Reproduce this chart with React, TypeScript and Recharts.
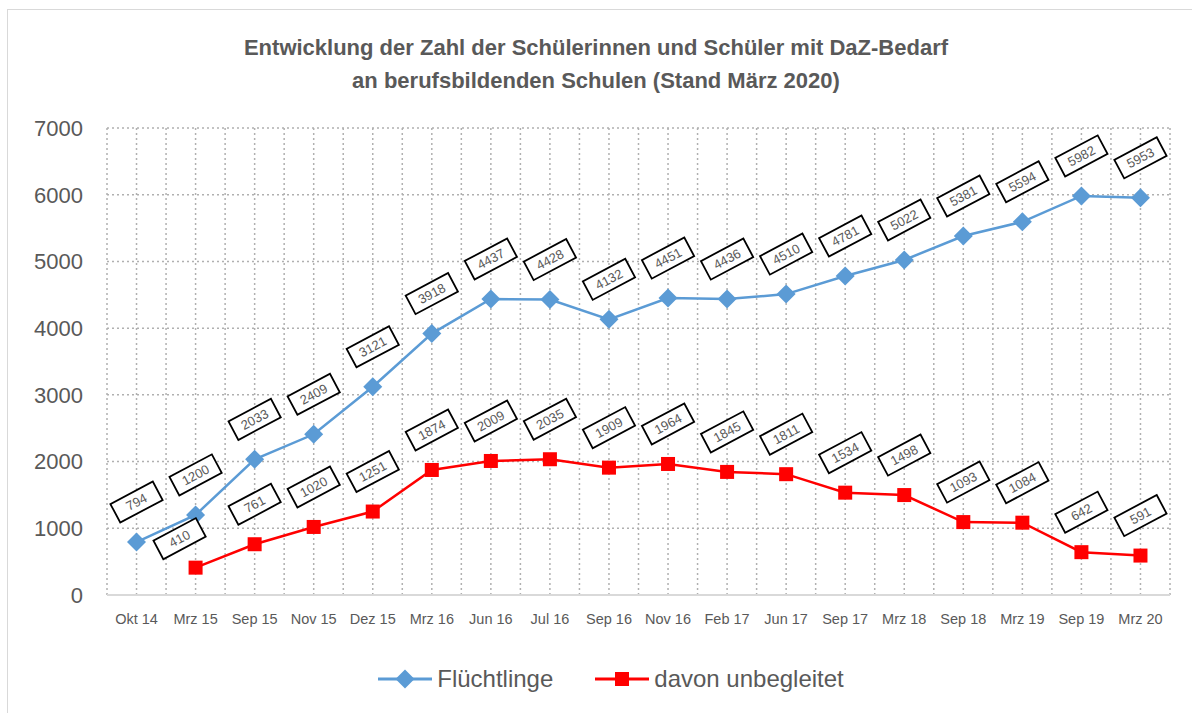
import { LineChart, Line, XAxis, YAxis, CartesianGrid, LabelList } from "recharts";

const months = [
  "Okt 14", "Mrz 15", "Sep 15", "Nov 15", "Dez 15", "Mrz 16", "Jun 16", "Jul 16", "Sep 16",
  "Nov 16", "Feb 17", "Jun 17", "Sep 17", "Mrz 18", "Sep 18", "Mrz 19", "Sep 19", "Mrz 20",
];
const fluechtlinge = [794, 1200, 2033, 2409, 3121, 3918, 4437, 4428, 4132, 4451, 4436, 4510, 4781, 5022, 5381, 5594, 5982, 5953];
const unbegleitet = [null, 410, 761, 1020, 1251, 1874, 2009, 2035, 1909, 1964, 1845, 1811, 1534, 1498, 1093, 1084, 642, 591];
const yTicks = [0, 1000, 2000, 3000, 4000, 5000, 6000, 7000];

const BLUE = "#5B9BD5";
const RED = "#FF0000";
const GRAY = "#595959";

const data = months.map((m, i) => ({ month: m, fl: fluechtlinge[i], ub: unbegleitet[i] }));

function Diamond({ cx, cy, fill }: any) {
  if (cx == null || cy == null) return null;
  const r = 9.5;
  return <polygon points={`${cx},${cy - r} ${cx + r},${cy} ${cx},${cy + r} ${cx - r},${cy}`} fill={fill} />;
}

function Square({ cx, cy, fill }: any) {
  if (cx == null || cy == null) return null;
  const s = 14;
  return <rect x={cx - s / 2} y={cy - s / 2} width={s} height={s} fill={fill} />;
}

// rotated boxed data label like the Excel original
function BoxLabel(props: any) {
  const { x, y, value, index, nudge } = props;
  if (value == null || x == null || y == null) return null;
  const n = nudge && nudge[index] ? nudge[index] : [0, 0];
  const cx = x + n[0];
  const cy = y - 40 + n[1];
  return (
    <g transform={`translate(${cx},${cy}) rotate(-28)`}>
      <rect x={-24} y={-10.5} width={48} height={21} fill="#fff" stroke="#000" strokeWidth={1.8} />
      <text x={0} y={4.5} textAnchor="middle" fontSize={13} fill={GRAY} fontFamily="'Liberation Sans', sans-serif">
        {value}
      </text>
    </g>
  );
}

export default function App() {
  const n = months.length;
  return (
    <div style={{ position: "absolute", left: 0, top: 0, width: 1192, height: 713, background: "#fff", overflow: "hidden" }}>
      <div style={{ position: "absolute", left: 7, top: 9, width: 1300, height: 800, border: "1.5px solid #d9d9d9" }} />
      <div
        style={{
          position: "absolute", left: 0, top: 31, width: 1192, textAlign: "center",
          fontFamily: "'Liberation Sans', sans-serif", fontWeight: "bold",
          fontSize: 22, lineHeight: "33px", color: GRAY,
        }}
      >
        Entwicklung der Zahl der Schülerinnen und Schüler mit DaZ-Bedarf
        <br />
        an berufsbildenden Schulen (Stand März 2020)
      </div>
      <div style={{ position: "absolute", left: 0, top: 0 }}>
        <LineChart width={1192} height={713} data={data} margin={{ top: 128, right: 22, left: 0, bottom: 78 }}>
          <CartesianGrid
            stroke="#b0b0b0"
            strokeWidth={1.5}
            strokeDasharray="2 3"
            horizontalValues={yTicks.slice(1)}
            verticalCoordinatesGenerator={({ offset }: any) => {
              const step = offset.width / (n * 2);
              return Array.from({ length: n * 2 + 1 }, (_, k) => offset.left + k * step);
            }}
          />
          <XAxis
            dataKey="month"
            scale="band"
            height={40}
            axisLine={{ stroke: "#d9d9d9", strokeWidth: 2 }}
            tickLine={false}
            tick={{ fill: GRAY, fontSize: 14.5, fontFamily: "'Liberation Sans', sans-serif" }}
            tickMargin={13}
            interval={0}
          />
          <YAxis
            domain={[0, 7000]}
            ticks={yTicks}
            width={107}
            axisLine={false}
            tickLine={false}
            tickMargin={18}
            tick={{ fill: GRAY, fontSize: 22, fontFamily: "'Liberation Sans', sans-serif" }}
          />
          <Line
            dataKey="fl"
            stroke={BLUE}
            strokeWidth={2.5}
            dot={<Diamond fill={BLUE} />}
            activeDot={false}
            isAnimationActive={false}
          >
            <LabelList dataKey="fl" content={<BoxLabel />} />
          </Line>
          <Line
            dataKey="ub"
            stroke={RED}
            strokeWidth={2.5}
            dot={<Square fill={RED} />}
            activeDot={false}
            connectNulls={false}
            isAnimationActive={false}
          >
            <LabelList dataKey="ub" content={<BoxLabel nudge={{ 1: [-16, 11] }} />} />
          </Line>
        </LineChart>
      </div>
      <div
        style={{
          position: "absolute", left: 0, top: 665, width: 1192, display: "flex", justifyContent: "center",
          gap: 42, fontFamily: "'Liberation Sans', sans-serif", fontSize: 24, color: GRAY,
          paddingLeft: 15,
        }}
      >
        <span style={{ display: "flex", alignItems: "center", gap: 5 }}>
          <svg width={54} height={22}>
            <line x1={0} y1={11} x2={54} y2={11} stroke={BLUE} strokeWidth={3} />
            <polygon points="27,1.5 36.5,11 27,20.5 17.5,11" fill={BLUE} />
          </svg>
          Flüchtlinge
        </span>
        <span style={{ display: "flex", alignItems: "center", gap: 5 }}>
          <svg width={54} height={22}>
            <line x1={0} y1={11} x2={54} y2={11} stroke={RED} strokeWidth={3} />
            <rect x={20} y={4} width={14} height={14} fill={RED} />
          </svg>
          davon unbegleitet
        </span>
      </div>
    </div>
  );
}
